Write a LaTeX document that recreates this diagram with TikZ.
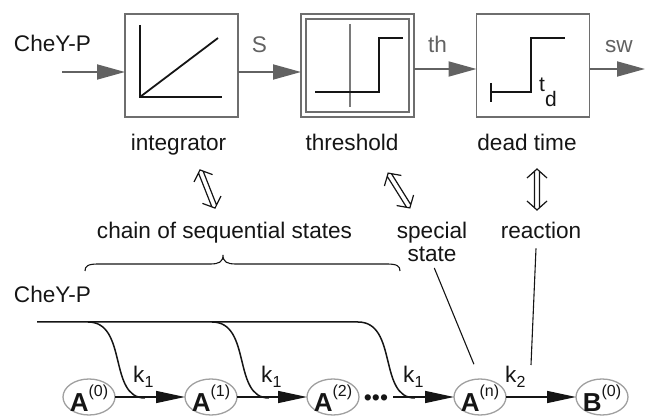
\documentclass[tikz,border=0pt]{standalone}
\usepackage{fontspec}
\setmainfont{Liberation Sans}
\usetikzlibrary{arrows.meta,shapes.geometric}
\definecolor{ink}{HTML}{151515}
\definecolor{boxgray}{HTML}{6E6E6E}
\definecolor{flowgray}{HTML}{626262}
\definecolor{ovalgray}{HTML}{A0A0A0}
\definecolor{axisgray}{HTML}{7A7A7A}

\tikzset{
  lbl/.style={inner sep=0pt, anchor=base, text=ink, font=\fontsize{22.6}{27}\selectfont},
  sig/.style={lbl, text=flowgray},
  blockbox/.style={draw=boxgray, line width=1.6pt, minimum width=113pt, minimum height=103pt, inner sep=0pt, outer sep=0pt},
  innerbox/.style={draw=boxgray, line width=1.4pt, minimum width=103pt, minimum height=93pt, inner sep=0pt, outer sep=0pt},
  flow/.style={draw=flowgray, line width=1.8pt, -{Triangle[length=28pt,width=15pt]}},
  graphline/.style={draw=ink, line width=1.8pt},
  feed/.style={draw=ink, line width=1.5pt},
  react/.style={draw=ink, line width=1.4pt, -{Triangle[length=29pt,width=12pt]}},
  species/.style={ellipse, draw=ovalgray, line width=1.3pt, minimum width=52pt, minimum height=36pt, inner sep=0pt, outer sep=0pt},
  spname/.style={inner sep=0pt, anchor=base, text=ink, font=\fontsize{26}{26}\selectfont\bfseries},
  link/.style={draw=ink, line width=1.1pt},
  dblarrow/.pic={
    \draw[ink, line width=1.2pt, line join=miter]
      (-10,-11.5) -- (0,-20.5) -- (10,-11.5)
      (-10,11.5) -- (0,20.5) -- (10,11.5)
      (-2.5,-18.25) -- (-2.5,18.25)
      (2.5,-18.25) -- (2.5,18.25);
  }
}
\newcommand{\supsc}[1]{\raisebox{15pt}{\fontsize{16}{16}\selectfont\mdseries #1}}
\newcommand{\rate}[1]{k\raisebox{-5pt}{\fontsize{16}{16}\selectfont #1}}

\begin{document}
\begin{tikzpicture}[x=1pt,y=-1pt]
\useasboundingbox (0,0) rectangle (649,417);

% ---------- signal chain ----------
\node[blockbox] (integ) at (181.5,65.5) {};
\node[blockbox] (thresh) at (357.5,65.5) {};
\node[innerbox] (threshin) at (357.5,65.5) {};
\node[blockbox] (dead) at (533,65.5) {};

% integrator curve
\draw[graphline] (140,25) -- (140,97) -- (222,97);
\draw[graphline] (140,97) -- (218,38);
% threshold step
\draw[draw=axisgray, line width=1.2pt] (350,24) -- (350,107);
\draw[graphline] (315,92) -- (379,92) -- (379,38) -- (403,38);
% delayed step
\draw[draw=ink, line width=1.2pt] (491,83) -- (491,102);
\draw[graphline] (491,92) -- (531,92) -- (531,38) -- (565,38);
\node[lbl, anchor=base west, font=\fontsize{21}{21}\selectfont] (td) at (539,92) {t\raisebox{-15pt}{d}};

\node[lbl] (cheyin) at (52.5,52) {CheY-P};
\coordinate (in0) at (62,72);
\coordinate (out0) at (645,69);
\draw[flow] (in0) -- (in0 -| integ.west);
\draw[flow] (integ.east |- in0) -- (thresh.west |- in0);
\draw[flow] (thresh.east |- out0) -- (dead.west |- out0);
\draw[flow] (dead.east |- out0) -- (out0);
\node[sig] (sS) at (259.5,53) {S};
\node[sig] (sth) at (437.5,53) {th};
\node[sig] (ssw) at (619,53) {sw};

\node[lbl] (lint) at (178.5,151) {integrator};
\node[lbl] (lthr) at (352,151) {threshold};
\node[lbl] (ldead) at (527,151) {dead time};

% ---------- correspondences ----------
\pic[rotate=21.5] at (207.5,189) {dblarrow};
\pic[rotate=32] at (399,190.5) {dblarrow};
\pic at (537,189.5) {dblarrow};

\node[lbl] (lchain) at (224.5,239) {chain of sequential states};
\node[lbl] (lspec) at (432,239) {special};
\node[lbl] (lstate) at (432,262) {state};
\node[lbl] (lreact) at (541,239) {reaction};

% brace under the chain label
\draw[link] (85,271) .. controls (85,266) and (88,264) .. (98,264)
  -- (210,264) .. controls (219,264) and (223,262) .. (223,255)
  .. controls (223,262) and (227,264) .. (236,264)
  -- (387,264) .. controls (397,264) and (400,266) .. (400,271);

% ---------- kinetic scheme ----------
\node[species] (a0) at (89,397) {};
\node[species] (a1) at (211,397) {};
\node[species] (a2) at (333,397) {};
\node[species] (an) at (480,397) {};
\node[species] (b0) at (602,397) {};
\node[spname] (a0t) at (89,411) {A\supsc{(0)}};
\node[spname] (a1t) at (211,411) {A\supsc{(1)}};
\node[spname] (a2t) at (333,411) {A\supsc{(2)}};
\node[spname] (ant) at (480,411) {A\supsc{(n)}};
\node[spname] (b0t) at (602,411) {B\supsc{(0)}};
\node[lbl, font=\fontsize{23}{23}\selectfont] (dots) at (376,405.5) {•••};

\draw[react] (a0) -- (a1);
\draw[react] (a1) -- (a2);
\draw[react, shorten <=5pt] (dots.east |- an) -- (an);
\draw[react] (an) -- (b0);

\node[lbl] (cheyb) at (52.5,303) {CheY-P};
\coordinate (cstart) at (37,322);
\draw[feed] (cstart) -- (358,322) .. controls (398,322) and (378,398) .. (415,398);
\draw[feed] (88,322) .. controls (128,322) and (108,398) .. (145,398);
\draw[feed] (212,322) .. controls (252,322) and (232,398) .. (269,398);

\node[lbl, anchor=base west] (k1a) at (133,382) {\rate{1}};
\node[lbl, anchor=base west] (k1b) at (261,382) {\rate{1}};
\node[lbl, anchor=base west] (k1c) at (403,382) {\rate{1}};
\node[lbl, anchor=base west] (k2) at (505,382) {\rate{2}};

% pointers to the scheme
\draw[link, shorten <=6pt, shorten >=16pt] (lstate.south) -- (an.north);
\coordinate (rxend) at (531,365);
\draw[link] (lreact.south) ++(-5,9) -- (rxend);
\end{tikzpicture}
\end{document}
